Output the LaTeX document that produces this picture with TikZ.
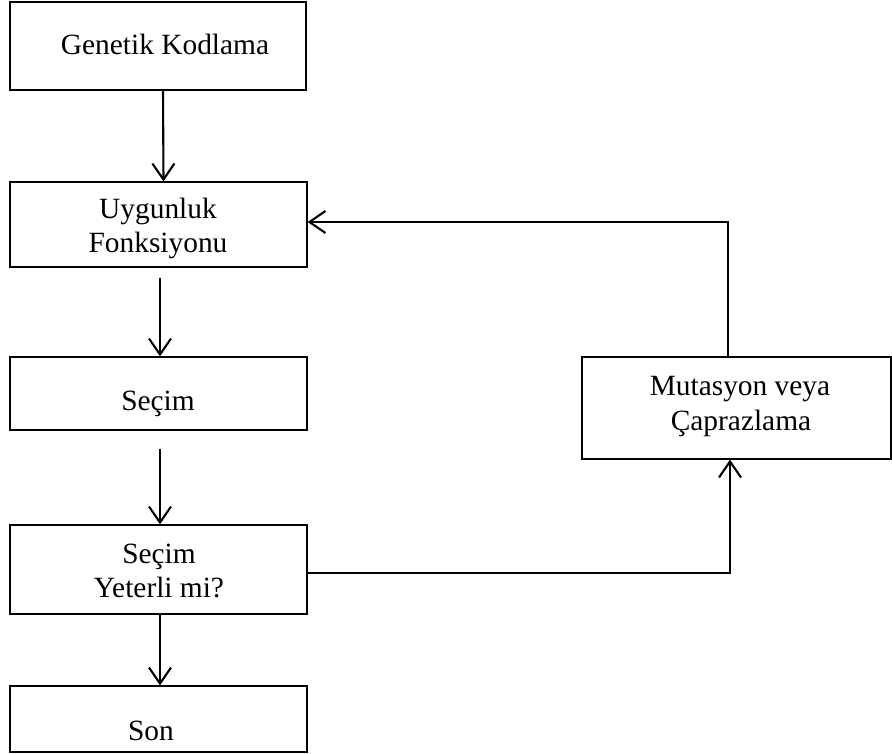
\documentclass[tikz,border=0pt]{standalone}
\usepackage{fontspec}
\setmainfont{Liberation Serif}
\usetikzlibrary{arrows.meta}
\begin{document}
\begin{tikzpicture}[x=1bp,y=-1bp,
  box/.style={draw=black,line width=1.2bp,rectangle,inner sep=0pt,fill=white},
  lbl/.style={anchor=base,inner sep=0pt,font=\fontsize{29.5}{34}\selectfont},
  arr/.style={line width=2.1bp,-{Straight Barb[length=16bp,width=22bp,line width=2.1bp]}}]
\useasboundingbox[fill=white] (0,0) rectangle (892,754);
% boxes
\node[box,minimum width=296bp,minimum height=88bp] (b1) at (158,46) {};
\node[box,minimum width=297bp,minimum height=85bp] (b2) at (158.5,224.5) {};
\node[box,minimum width=297bp,minimum height=73bp] (b3) at (158.5,393.5) {};
\node[box,minimum width=297bp,minimum height=89bp] (b4) at (158.5,569.5) {};
\node[box,minimum width=297bp,minimum height=66bp] (b5) at (158.5,719) {};
\node[box,minimum width=309bp,minimum height=102bp] (m) at (736.5,408) {};
% labels
\node[lbl] (t1) at (165,55) {Genetik Kodlama};
\node[lbl] (t2a) at (158,218) {Uygunluk};
\node[lbl] (t2b) at (158,252) {Fonksiyonu};
\node[lbl] (t3) at (158,410) {Seçim};
\node[lbl] (t4a) at (159,563) {Seçim};
\node[lbl] (t4b) at (159,597) {Yeterli mi?};
\node[lbl] (t5) at (151,740) {Son};
\node[lbl] (tma) at (740,395) {Mutasyon veya};
\node[lbl] (tmb) at (741,430) {Çaprazlama};
% connectors
\draw[arr] ([xshift=5bp]b1.south) -- ([xshift=5bp]b2.north);
\draw[arr] ([shift={(1.5bp,-10bp)}]b2.south) -- ([xshift=1.5bp]b3.north);
\draw[arr] ([shift={(1.5bp,-18bp)}]b3.south) -- ([xshift=1.5bp]b4.north);
\draw[arr] ([xshift=1.5bp]b4.south) -- ([xshift=1.5bp]b5.north);
\draw[arr] ([xshift=-8.5bp]m.north) |- ([yshift=2.5bp]b2.east);
\draw[arr] ([yshift=-3.5bp]b4.east) -| ([xshift=-6.5bp]m.south);
\end{tikzpicture}
\end{document}
